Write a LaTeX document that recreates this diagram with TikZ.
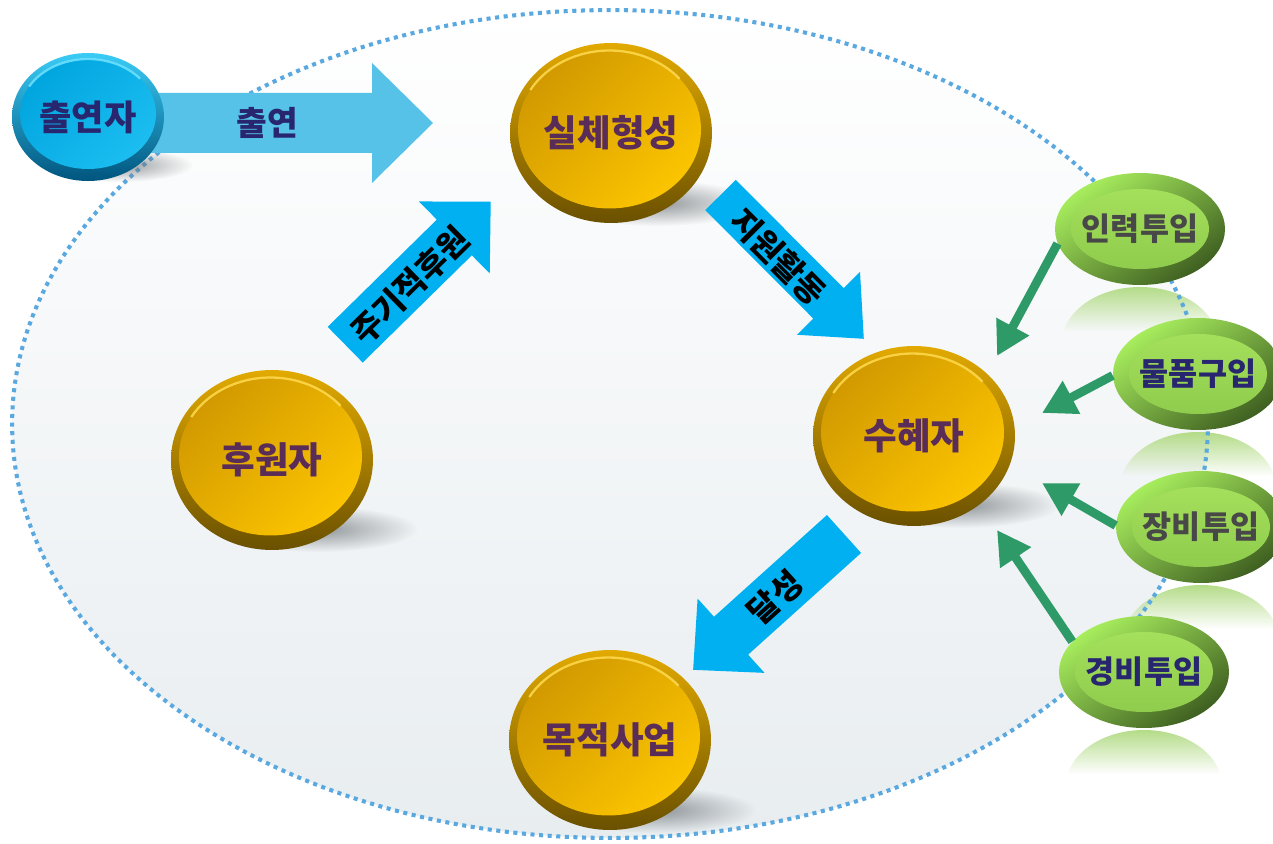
\documentclass[tikz,border=0pt]{standalone}
\usepackage{fontspec}
\setmainfont{Noto Sans CJK KR}
\usetikzlibrary{fadings,arrows.meta,shapes.geometric}
\tikzfading[name=myfadedown, top color=transparent!0, bottom color=transparent!100]
\tikzfading[name=myfadeout, inner color=transparent!0, outer color=transparent!100]
\definecolor{dotblue}{HTML}{5AA8E0}
\definecolor{bgbot}{HTML}{E8EDF0}
\definecolor{lightarrow}{HTML}{56C2E8}
\definecolor{deeparrow}{HTML}{00B0F0}
\definecolor{gline}{HTML}{2E9A68}
\definecolor{goldrimtop}{HTML}{E2AA00}
\definecolor{goldrimbot}{HTML}{6A5000}
\definecolor{goldface1}{HTML}{D09800}
\definecolor{goldface2}{HTML}{FFC800}
\definecolor{goldhi}{HTML}{FFDA50}
\definecolor{goldtext}{HTML}{5A2C58}
\definecolor{bluerimtop}{HTML}{3ACCF6}
\definecolor{bluerimbot}{HTML}{00557E}
\definecolor{blueface1}{HTML}{00A4DE}
\definecolor{blueface2}{HTML}{1EC0F2}
\definecolor{bluehi}{HTML}{6EE2FF}
\definecolor{navytext}{HTML}{27266E}
\definecolor{greyt}{HTML}{484848}
\definecolor{grimtop}{HTML}{A8EE5E}
\definecolor{grimbot}{HTML}{3E5E20}
\definecolor{gface1}{HTML}{A8E45E}
\definecolor{gface2}{HTML}{8CC84A}
\definecolor{grefl}{HTML}{B4DC88}
\definecolor{shadowc}{HTML}{70767A}
\tikzset{
  pics/blockarrow/.style n args={5}{code={
    \fill[#5] (0,{-#2/2}) -- ({#1-#4},{-#2/2}) -- ({#1-#4},{-#3/2}) -- (#1,0)
      -- ({#1-#4},{#3/2}) -- ({#1-#4},{#2/2}) -- (0,{#2/2}) -- cycle;}},
  goldnode/.style={ellipse, minimum width=4.04cm, minimum height=3.6cm, inner sep=0pt,
    top color=goldrimtop, bottom color=goldrimbot,
    text=goldtext, font=\bfseries\fontsize{20.8}{22}\selectfont,
    path picture={
      \shade[top color=goldface1, bottom color=goldface2, shading angle=45]
        ([xshift=-0.03cm,yshift=0.07cm]path picture bounding box.center) ellipse [x radius=1.83cm, y radius=1.58cm];
      \draw[goldhi, line width=1.3pt, opacity=0.85]
        ([xshift=-0.03cm,yshift=0.07cm]path picture bounding box.center) ++(150:1.83cm and 1.58cm)
        arc [start angle=150, end angle=40, x radius=1.83cm, y radius=1.58cm];
    }},
  bluenode/.style={ellipse, minimum width=3.04cm, minimum height=2.56cm, inner sep=0pt,
    top color=bluerimtop, bottom color=bluerimbot,
    text=navytext, font=\bfseries\fontsize{20}{22}\selectfont,
    path picture={
      \shade[top color=blueface1, bottom color=blueface2, shading angle=45]
        ([yshift=0.06cm]path picture bounding box.center) ellipse [x radius=1.36cm, y radius=1.1cm];
      \draw[bluehi, line width=1.3pt, opacity=0.85]
        ([yshift=0.06cm]path picture bounding box.center) ++(150:1.36cm and 1.1cm)
        arc [start angle=150, end angle=40, x radius=1.36cm, y radius=1.1cm];
    }},
  greennode/.style={ellipse, minimum width=3.4cm, minimum height=2.24cm, inner sep=0pt,
    top color=grimtop, bottom color=grimbot, shading angle=35,
    font=\bfseries\fontsize{18}{20}\selectfont,
    path picture={
      \shade[top color=gface1, bottom color=gface2]
        (path picture bounding box.center) ellipse [x radius=1.38cm, y radius=0.8cm];
    }},
  arrowlabel/.style={font=\bfseries\fontsize{18.5}{20}\selectfont, text=black, inner sep=0pt},
  garrow/.style={gline, line width=5pt, -{Triangle[width=20pt,length=19pt]}},
  shadowfill/.style={shadowc, opacity=0.75, path fading=myfadeout}
}
\begin{document}
\begin{tikzpicture}[x=0.02cm, y=-0.02cm]
\useasboundingbox (0,0) rectangle (1273,844);
\fill[white] (0,0) rectangle (1273,844);
% big background ellipse
\shade[top color=white, bottom color=bgbot] (610,424) ellipse [x radius=11.96cm, y radius=8.28cm];
% reflections of the green nodes
\foreach \cx/\cy in {1140/287, 1198/432, 1201/585, 1144/730} {
  \begin{scope}
    \clip (\cx,\cy+56) ellipse [x radius=1.56cm, y radius=1.12cm];
    \fill[grefl, path fading=myfadedown] (\cx-80,\cy) rectangle (\cx+80,\cy+44);
  \end{scope}
}
\draw[dotblue, line width=2.3pt, dash pattern=on 2.3pt off 2.6pt] (610,424) ellipse [x radius=11.96cm, y radius=8.28cm];
% shadows
\fill[shadowfill] (657,203) ellipse [x radius=2cm, y radius=0.46cm];
\fill[shadowfill] (318,529) ellipse [x radius=2cm, y radius=0.46cm];
\fill[shadowfill] (960,505) ellipse [x radius=2cm, y radius=0.46cm];
\fill[shadowfill] (656,810) ellipse [x radius=2cm, y radius=0.46cm];
\fill[shadowfill] (118,165) ellipse [x radius=1.5cm, y radius=0.34cm];
% block arrows
\pic at (150,123) {blockarrow={283}{60}{120}{61}{lightarrow}};
\pic[rotate=44.5] at (345.2,344.7) {blockarrow={204}{50}{101}{51}{deeparrow}};
\pic[rotate=-45.1] at (720.5,195) {blockarrow={203}{43}{89}{50}{deeparrow}};
\pic[rotate=-138] at (844,534) {blockarrow={203}{51}{100}{51}{deeparrow}};
% nodes
\node[bluenode] (chul) at (88,117) {출연자};
\node[goldnode] (silche) at (611,133) {실체형성};
\node[goldnode] (huwon) at (272,460) {후원자};
\node[goldnode] (suhye) at (914,436) {수혜자};
\node[goldnode] (mokjeok) at (610,740) {목적사업};
\node[greennode, text=greyt] (g1) at (1140,229) {인력투입};
\node[greennode, text=navytext] (g2) at (1198,374) {물품구입};
\node[greennode, text=greyt] (g3) at (1201,527) {장비투입};
\node[greennode, text=navytext] (g4) at (1144,672) {경비투입};
% arrow labels
\node[arrowlabel, text=navytext, font=\bfseries\fontsize{19}{21}\selectfont] (lblchul) at (267,123) {출연};
\node[arrowlabel, rotate=44.5] (lbljugi) at (410,285) {주기적후원};
\node[arrowlabel, rotate=-45.1] (lbljiwon) at (778,257) {지원활동};
\node[arrowlabel, rotate=42] (lbldal) at (775,597) {달성};
% green arrows
\coordinate (t1) at (997,356);
\coordinate (t2) at (1042,413);
\coordinate (t3) at (1042,483);
\coordinate (t4) at (997,530);
\draw[garrow] (g1.190) -- (t1);
\draw[garrow] (g2.181) -- (t2);
\draw[garrow] (g3.179) -- (t3);
\draw[garrow] (g4.157) -- (t4);
\end{tikzpicture}
\end{document}
